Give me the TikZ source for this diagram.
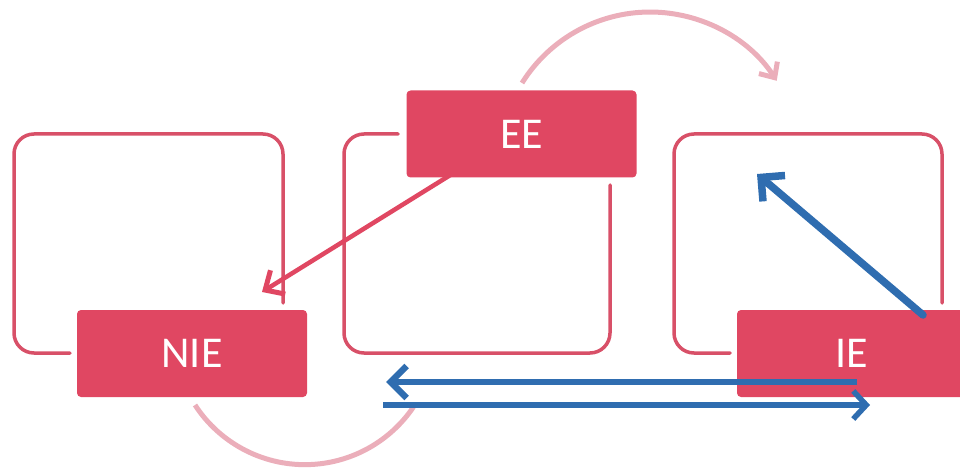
\documentclass[tikz,border=0pt]{standalone}
\usepackage{fontspec}
\setmainfont{Carlito}
\usetikzlibrary{arrows.meta}
\definecolor{boxred}{HTML}{E04762}
\definecolor{linered}{HTML}{D85068}
\definecolor{arcpink}{HTML}{EBAEBA}
\definecolor{arrblue}{HTML}{2F6DB0}
\tikzset{
  lab/.style={fill=boxred, rounded corners=4pt, minimum width=230pt, minimum height=87pt,
              inner sep=0pt, text=white, font=\fontsize{44}{50}\selectfont},
  frame/.style={draw=linered, line width=3.5pt, rounded corners=20pt, line cap=round},
  arcline/.style={draw=arcpink, line width=5pt},
  bluearr/.style={draw=arrblue, line width=6.5pt},
}
\begin{document}
\begin{tikzpicture}[x=1pt,y=-1pt]
\useasboundingbox (0,0) rectangle (960,470);
% outline frames
\draw[frame] (283,303) -- (283,134) -- (14,134) -- (14,353) -- (70,353);
\draw[frame] (398,134) -- (344,134) -- (344,353) -- (610,353) -- (610,185);
\draw[frame] (942,303) -- (942,134) -- (674,134) -- (674,353) -- (730,353);
% arcs
\draw[arcline, -{Straight Barb[length=12pt,width=22pt,line width=5pt]}]
  (522,83) arc[start angle=-148, end angle=-33, radius=151];
\draw[arcline] (195,405) arc[start angle=147, end angle=34, radius=131];
% red arrow
\coordinate (rs) at (452,174);
\coordinate (rt) at (262,292);
\draw[draw=boxred, line width=4.5pt, -{Straight Barb[length=15pt,width=28pt,line width=5pt]}] (rs) -- (rt);
% filled boxes
\node[lab] (EE) at (521.5,134) {EE};
\node[lab] (NIE) at (192,353.5) {NIE};
\node[lab] (IE) at (852,353.5) {IE};
% blue arrows
\coordinate (d1) at (923,315);
\coordinate (d2) at (757,174);
\draw[bluearr, line width=7.5pt, line cap=round, -{Straight Barb[length=17pt,width=34pt,line width=7.5pt]}] (d1) -- (d2);
\coordinate (h1) at (857,382);
\coordinate (h2) at (386,382);
\draw[bluearr, -{Straight Barb[length=16pt,width=32pt,line width=6.5pt]}] (h1) -- (h2);
\coordinate (h3) at (383,405);
\coordinate (h4) at (870,405);
\draw[bluearr, line width=5.5pt, -{Straight Barb[length=13pt,width=28pt,line width=5.5pt]}] (h3) -- (h4);
\end{tikzpicture}
\end{document}
